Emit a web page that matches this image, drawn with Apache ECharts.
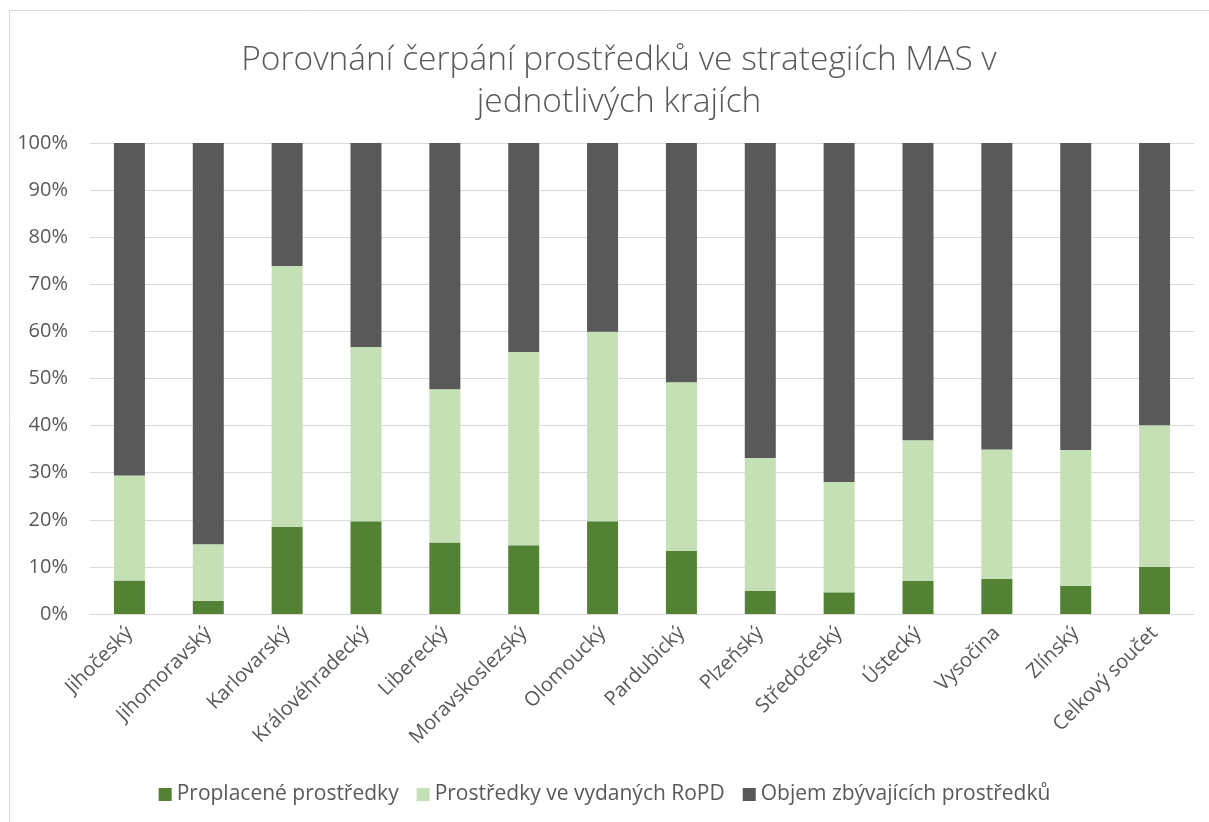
<!DOCTYPE html>
<html>
<head>
<meta charset="utf-8">
<script src="https://cdn.jsdelivr.net/npm/echarts@6/dist/echarts.min.js"></script>
<style>
  html, body { margin: 0; padding: 0; background: #fff; }
  #main { width: 1209px; height: 822px; }
</style>
</head>
<body>
<div id="main"></div>
<script>
// kraje
var categories = ['Jihočeský', 'Jihomoravský', 'Karlovarský', 'Královéhradecký', 'Liberecký',
  'Moravskoslezský', 'Olomoucký', 'Pardubický', 'Plzeňský', 'Středočeský', 'Ústecký',
  'Vysočina', 'Zlínský', 'Celkový součet'];

// podily v %
var proplacene = [7.1, 2.8, 18.5, 19.7, 15.2, 14.6, 19.7, 13.4, 4.9, 4.6, 7.0, 7.5, 6.0, 10.0];
var vydaneRoPD = [22.3, 12.0, 55.4, 37.0, 32.5, 41.0, 40.2, 35.8, 28.2, 23.4, 29.9, 27.4, 28.8, 30.1];
var zbyvajici = [70.6, 85.2, 26.1, 43.3, 52.3, 44.4, 40.1, 50.8, 66.9, 72.0, 63.1, 65.1, 65.2, 59.9];

var seriesNames = ['Proplacené prostředky', 'Prostředky ve vydaných RoPD', 'Objem zbývajících prostředků'];
var colors = ['#548235', '#C5E0B4', '#595959'];

var font = '"Open Sans", "Noto Sans", sans-serif';
var chart = echarts.init(document.getElementById('main'));

var option = {
  animation: false,
  backgroundColor: '#fff',
  color: colors,
  textStyle: { fontFamily: font },
  title: {
    text: 'Porovnání čerpání prostředků ve strategiích MAS v\njednotlivých krajích',
    left: 614,
    textAlign: 'center',
    top: 34,
    textStyle: {
      color: '#595959',
      fontSize: 33.5,
      fontWeight: 300,
      lineHeight: 42,
      align: 'center',
      fontFamily: font
    }
  },
  graphic: [{
    type: 'rect',
    shape: { x: 9.5, y: 10.5, width: 1220, height: 830 },
    style: { fill: 'none', stroke: '#d9d9d9', lineWidth: 1 },
    silent: true
  }],
  legend: {
    data: seriesNames,
    bottom: 12,
    left: 'center',
    itemWidth: 13,
    itemHeight: 13,
    itemGap: 18,
    icon: 'rect',
    textStyle: { color: '#595959', fontSize: 21, fontFamily: font }
  },
  grid: {
    left: 90,
    right: 15,
    top: 143,
    bottom: 208
  },
  xAxis: {
    type: 'category',
    data: categories,
    axisLine: { show: true, lineStyle: { color: '#d9d9d9' } },
    axisTick: { show: false },
    axisLabel: {
      interval: 0,
      rotate: 45,
      color: '#595959',
      fontSize: 20,
      margin: 16,
      fontFamily: font
    }
  },
  yAxis: {
    type: 'value',
    min: 0,
    max: 100,
    interval: 10,
    axisLine: { show: false },
    axisTick: { show: false },
    splitLine: { lineStyle: { color: '#d9d9d9', width: 1 } },
    axisLabel: {
      formatter: '{value}%',
      color: '#595959',
      fontSize: 20,
      margin: 22,
      fontFamily: font
    }
  },
  series: [
    { name: seriesNames[0], type: 'bar', stack: 'a', data: proplacene, barWidth: 31 },
    { name: seriesNames[1], type: 'bar', stack: 'a', data: vydaneRoPD, barWidth: 31 },
    { name: seriesNames[2], type: 'bar', stack: 'a', data: zbyvajici, barWidth: 31 }
  ]
};
chart.setOption(option);
</script>
</body>
</html>
